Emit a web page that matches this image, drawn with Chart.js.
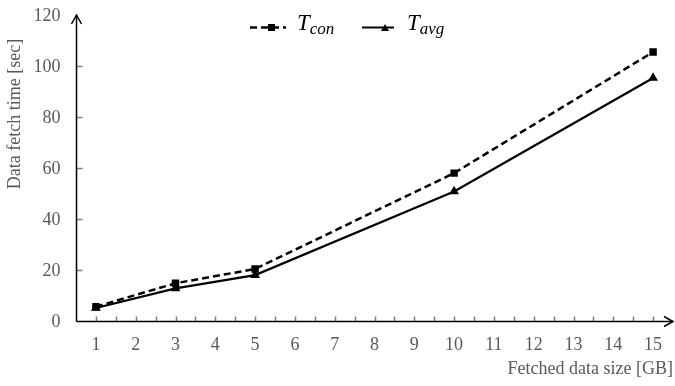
<!DOCTYPE html>
<html>
<head>
<meta charset="utf-8">
<script src="https://cdn.jsdelivr.net/npm/chart.js@4/dist/chart.umd.min.js"></script>
<style>
    html, body { margin: 0; padding: 0; background: #fff; }
    #wrap { position: relative; width: 675px; height: 386px; }
    .leg { position: absolute; top: 10px; font-family: "Liberation Serif", serif; font-style: italic; font-size: 23px; color: #000; line-height: 26px; }
    .leg sub { font-size: 17px; vertical-align: -4px; }
</style>
</head>
<body>
<div id="wrap">
    <canvas id="grafico" width="675" height="386"></canvas>
    <div class="leg" style="left:297px;">T<sub>con</sub></div>
    <div class="leg" style="left:407px;">T<sub>avg</sub></div>
</div>
<script>
/* ============================
   DADOS
============================ */
const tamanhos = [1, 3, 5, 10, 15];
const tempoCon = [5.6, 14.8, 20.4, 58.0, 105.5];
const tempoAvg = [5.1, 12.8, 18.0, 50.8, 95.3];
const ticksX = [1, 2, 3, 4, 5, 6, 7, 8, 9, 10, 11, 12, 13, 14, 15];
const ticksY = [0, 20, 40, 60, 80, 100, 120];

const CINZA = "#595959";
const FONTE = '"Liberation Serif", "Times New Roman", serif';

function pontos(xs, ys) {
    return xs.map((x, i) => ({ x: x, y: ys[i] }));
}

/* ============================
   EIXOS DESENHADOS À MÃO
============================ */
const eixos = {
    id: "eixos",
    afterDraw(chart) {
        const ctx = chart.ctx;
        const sx = chart.scales.x;
        const sy = chart.scales.y;
        const x0 = Math.round(sx.left) + 0.5;
        const y0 = Math.round(sy.getPixelForValue(0)) + 0.5;
        const xEnd = sx.right;
        const yTop = sy.getPixelForValue(120);

        ctx.save();
        // ticks
        ctx.strokeStyle = "#7f7f7f";
        ctx.lineWidth = 1.5;
        ticksY.forEach(v => {
            if (v === 0 || v === 120) return;
            const y = Math.round(sy.getPixelForValue(v)) + 0.5;
            ctx.beginPath(); ctx.moveTo(x0, y); ctx.lineTo(x0 + 6, y); ctx.stroke();
        });
        for (let v = 1; v <= 15; v += 0.5) {
            const x = Math.round(sx.getPixelForValue(v)) + 0.5;
            ctx.beginPath(); ctx.moveTo(x, y0); ctx.lineTo(x, y0 - 5); ctx.stroke();
        }

        // linhas dos eixos
        ctx.strokeStyle = "#000";
        ctx.lineWidth = 1.5;
        ctx.beginPath();
        ctx.moveTo(x0, y0); ctx.lineTo(x0, yTop);
        ctx.moveTo(x0, y0); ctx.lineTo(xEnd, y0);
        ctx.stroke();
        // setas
        ctx.beginPath();
        ctx.moveTo(x0 - 5, yTop + 9); ctx.lineTo(x0, yTop); ctx.lineTo(x0 + 5, yTop + 9);
        ctx.moveTo(xEnd - 9, y0 - 5); ctx.lineTo(xEnd, y0); ctx.lineTo(xEnd - 9, y0 + 5);
        ctx.stroke();

        // rótulos
        ctx.fillStyle = CINZA;
        ctx.font = "18px " + FONTE;
        ctx.textAlign = "right";
        ctx.textBaseline = "middle";
        ticksY.forEach(v => ctx.fillText(String(v), x0 - 16, sy.getPixelForValue(v) + 1));
        ctx.textAlign = "center";
        ticksX.forEach(v => ctx.fillText(String(v), sx.getPixelForValue(v), 345));

        ctx.font = "18px " + FONTE;
        ctx.textAlign = "right";
        ctx.fillText("Fetched data size [GB]", 673, 369);

        ctx.translate(15, 114);
        ctx.rotate(-Math.PI / 2);
        ctx.textAlign = "center";
        ctx.fillText("Data fetch time [sec]", 0, 0);
        ctx.restore();

        // amostras da legenda
        ctx.save();
        ctx.strokeStyle = "#000";
        ctx.fillStyle = "#000";
        ctx.lineWidth = 2.5;
        ctx.setLineDash([7, 4]);
        ctx.beginPath(); ctx.moveTo(250, 27.5); ctx.lineTo(286, 27.5); ctx.stroke();
        ctx.setLineDash([]);
        ctx.fillRect(268, 24, 7, 7);
        ctx.lineWidth = 2;
        ctx.beginPath(); ctx.moveTo(362, 27.5); ctx.lineTo(394, 27.5); ctx.stroke();
        ctx.beginPath(); ctx.moveTo(381, 31); ctx.lineTo(385, 24); ctx.lineTo(389, 31); ctx.closePath(); ctx.fill();
        ctx.restore();
    }
};

/* ============================
   GRÁFICO
============================ */
new Chart(document.getElementById("grafico").getContext("2d"), {
    type: "line",
    data: {
        datasets: [{
            label: "Tcon",
            data: pontos(tamanhos, tempoCon),
            borderColor: "#000",
            backgroundColor: "#000",
            borderWidth: 2.5,
            borderDash: [7, 4],
            pointStyle: "rect",
            pointRadius: 3.5,
            tension: 0,
            clip: false
        }, {
            label: "Tavg",
            data: pontos(tamanhos, tempoAvg),
            borderColor: "#000",
            backgroundColor: "#000",
            borderWidth: 2.2,
            pointStyle: "triangle",
            pointRadius: 3.5,
            tension: 0,
            clip: false
        }]
    },
    options: {
        responsive: false,
        animation: false,
        layout: { autoPadding: false, padding: { left: 76, right: 2, top: 15, bottom: 65 } },
        plugins: { legend: { display: false }, tooltip: { enabled: false } },
        scales: {
            x: { type: "linear", min: 0.5, max: 15.5, display: false },
            y: { min: 0, max: 120, display: false }
        }
    },
    plugins: [eixos]
});
</script>
</body>
</html>
